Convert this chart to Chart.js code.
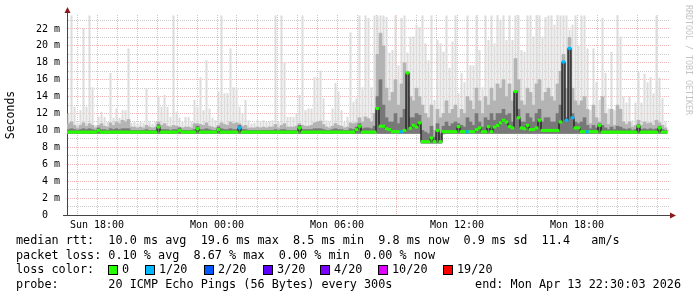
<!DOCTYPE html>
<html>
<head>
<meta charset="utf-8">
<script src="https://cdn.jsdelivr.net/npm/chart.js@4.4.1/dist/chart.umd.min.js"></script>
<style>
html,body{margin:0;padding:0;background:#fff}
canvas{display:block}
</style>
</head>
<body>
<canvas id="c" width="697" height="297"></canvas>
<script>
// samples every 9 minutes, hours counted from Sun 00:00
var sampleStart = 16.5
var sampleStep = 0.15

// highest ping of each sample (ms)
var smokeMax = [
 12.0,23.6,12.8,10.9,12.4,22.1,12.8,23.6,15.1,10.6,
 11.6,12.2,11.6,11.0,16.8,11.5,12.6,11.5,12.4,12.4,
 19.7,10.9,11.0,10.8,11.0,10.9,15.0,11.0,10.8,11.0,
 14.0,12.8,14.2,12.8,11.6,23.6,12.2,11.5,11.0,11.6,
 11.6,11.0,13.6,12.8,16.3,12.4,18.3,12.6,11.5,11.2,
 14.6,23.6,14.4,14.4,19.7,15.1,15.0,12.8,12.0,13.6,
 11.2,10.8,10.9,11.2,11.1,11.2,11.0,11.1,11.2,23.6,
 11.0,23.6,18.1,11.6,11.6,11.6,12.0,14.2,23.6,12.4,
 12.6,12.6,16.3,16.2,17.1,13.8,11.2,11.0,12.6,15.6,
 14.6,12.4,11.0,11.6,21.6,13.4,13.8,23.6,15.1,23.6,
 23.3,15.1,23.6,23.6,23.6,23.6,23.4,19.2,19.5,23.6,
 17.7,23.3,23.6,19.2,21.1,21.1,22.5,22.2,23.6,20.3,
 18.3,23.6,13.6,20.7,20.3,19.3,23.6,17.4,20.5,23.6,
 14.4,16.8,15.7,23.6,17.7,17.7,23.6,19.5,15.1,23.6,
 20.7,23.6,20.3,23.6,23.1,23.6,20.7,23.6,20.7,23.6,
 23.6,19.5,19.3,23.6,23.6,21.1,23.6,23.6,21.1,23.4,
 23.6,23.6,22.5,23.6,23.6,23.6,23.6,21.9,22.5,23.6,
 20.1,23.6,23.6,19.7,12.4,19.7,15.7,13.6,23.3,16.8,
 12.6,19.3,12.4,23.6,21.1,14.0,13.3,14.0,11.2,13.3,
 16.9,13.3,16.7,15.7,16.3,14.4,23.6,16.2,13.8,11.0
]

// upper quartile-ish smoke
var smokeMid = [
 10.8,11.0,10.6,10.3,10.6,10.9,10.5,10.8,10.6,10.3,
 10.6,10.8,10.5,10.4,10.9,10.6,11.0,10.8,11.2,11.0,
 11.3,10.4,10.4,10.3,10.4,10.3,10.6,10.4,10.3,10.4,
 11.0,10.6,10.8,10.5,10.4,10.6,10.5,10.4,10.3,10.4,
 10.4,10.3,10.8,10.8,10.7,10.6,10.9,10.5,10.4,10.3,
 10.6,10.9,10.7,10.6,11.0,10.8,10.9,10.8,10.5,10.6,
 10.3,10.3,10.3,10.4,10.3,10.4,10.3,10.4,10.4,10.7,
 10.3,10.6,10.8,10.4,10.4,10.4,10.5,10.8,10.6,10.5,
 10.5,10.6,10.9,11.0,11.1,10.7,10.4,10.3,10.5,10.8,
 10.6,10.5,10.3,10.4,10.9,10.8,10.9,11.5,11.0,11.6,
 11.4,11.0,12.0,19.0,21.5,20.0,15.0,13.5,14.5,16.0,
 13.0,15.5,18.0,17.0,14.0,13.5,15.0,14.0,13.0,12.0,
 11.5,13.0,10.0,12.5,11.5,12.0,13.5,12.0,12.5,13.0,
 11.5,12.5,12.0,14.0,13.5,12.5,15.0,13.5,12.0,14.0,
 13.0,15.0,13.5,15.5,15.0,16.0,14.0,15.5,13.5,18.5,
 16.0,13.5,13.0,15.0,14.5,13.0,15.5,16.0,13.5,14.5,
 15.0,14.0,13.5,15.5,17.0,19.0,15.0,21.0,15.0,13.5,
 13.0,13.5,14.0,12.5,10.8,13.0,11.5,11.0,14.0,12.0,
 10.7,12.5,10.6,13.0,12.5,11.0,10.7,11.0,10.4,10.6,
 11.2,10.6,11.0,10.8,10.9,10.6,11.2,10.9,10.6,10.3
]

// dense smoke close to the median
var smokeDark = [
 10.1,10.2,10.1,10.0,10.1,10.2,10.1,10.2,10.1,10.0,
 10.3,10.1,10.1,10.0,10.2,10.1,10.2,10.1,10.2,10.2,
 10.2,10.0,10.0,10.0,10.0,10.0,10.1,10.0,10.0,10.0,
 10.7,10.1,10.1,10.1,10.0,10.1,10.1,10.3,10.0,10.0,
 10.0,10.0,10.1,10.5,10.1,10.1,10.2,10.1,10.0,10.0,
 10.4,10.2,10.1,10.1,10.2,10.1,10.1,10.6,10.1,10.1,
 10.0,10.0,10.0,10.0,10.0,10.0,10.0,10.0,10.0,10.1,
 10.0,10.1,10.1,10.0,10.0,10.0,10.0,10.6,10.1,10.1,
 10.1,10.1,10.2,10.2,10.2,10.1,10.0,10.0,10.1,10.2,
 10.1,10.1,10.0,10.0,10.2,10.1,10.4,10.8,10.2,10.3,
 10.3,10.2,10.5,14.0,16.0,13.0,11.5,11.0,11.0,12.0,
 10.8,11.5,12.5,16.8,11.5,11.5,12.0,11.8,10.0,9.8,
 9.6,10.5,9.2,10.8,9.6,10.5,11.0,10.5,10.8,11.0,
 10.8,10.6,10.4,11.5,11.0,10.6,12.0,11.0,10.4,11.5,
 11.2,12.0,11.2,12.0,12.0,12.5,11.8,12.0,11.0,14.6,
 12.5,11.0,11.0,12.0,11.5,11.0,12.0,12.5,11.0,11.5,
 11.5,11.0,11.0,12.0,13.0,18.1,11.5,19.7,12.0,11.0,
 10.8,11.0,11.5,10.6,10.2,10.6,10.3,10.8,10.6,10.3,
 10.1,10.4,10.1,10.5,10.4,10.2,10.1,10.2,10.0,10.1,
 10.7,10.1,10.2,10.1,10.2,10.1,10.2,10.5,10.1,10.0
]

// lowest ping of each sample
var smokeLow = [
 9.65,9.65,9.65,9.65,9.65,9.65,9.65,9.65,9.65,9.65,
 9.65,9.65,9.65,9.65,9.65,9.65,9.65,9.65,9.65,9.65,
 9.65,9.65,9.65,9.65,9.65,9.65,9.65,9.65,9.65,9.65,
 9.65,9.65,9.65,9.65,9.65,9.65,9.65,9.65,9.65,9.65,
 9.65,9.65,9.65,9.65,9.65,9.65,9.65,9.65,9.65,9.65,
 9.65,9.65,9.65,9.65,9.65,9.65,9.65,9.65,9.65,9.65,
 9.65,9.65,9.65,9.65,9.65,9.65,9.65,9.65,9.65,9.65,
 9.65,9.65,9.65,9.65,9.65,9.65,9.65,9.65,9.65,9.65,
 9.65,9.65,9.65,9.65,9.65,9.65,9.65,9.65,9.65,9.65,
 9.65,9.65,9.65,9.65,9.65,9.65,9.65,9.65,9.65,9.65,
 9.65,9.65,9.65,9.65,9.65,9.65,9.65,9.65,9.65,9.65,
 9.65,9.65,9.65,9.65,9.65,9.65,9.65,9.65,8.5,8.5,
 8.5,8.5,8.5,8.5,8.5,9.6,9.65,9.65,9.65,9.65,
 9.65,9.65,9.65,9.65,9.65,9.65,9.65,9.65,9.65,9.65,
 9.65,9.65,9.65,9.65,9.65,9.65,9.65,9.65,9.65,9.65,
 9.65,9.65,9.65,9.65,9.65,9.65,9.65,9.65,9.65,9.65,
 9.65,9.65,9.65,9.65,9.65,9.65,9.65,9.65,9.65,9.65,
 9.65,9.65,9.65,9.65,9.65,9.65,9.65,9.65,9.65,9.65,
 9.65,9.65,9.65,9.65,9.65,9.65,9.65,9.65,9.65,9.65,
 9.65,9.65,9.65,9.65,9.65,9.65,9.65,9.65,9.65,9.65
]

// median rtt (ms)
var median = [
 9.8,9.8,9.8,9.8,9.8,9.8,9.8,9.8,9.8,9.8,
 10.0,9.8,9.8,9.8,9.8,9.8,9.8,9.8,9.8,9.8,
 9.8,9.8,9.8,9.8,9.8,9.8,9.8,9.8,9.8,9.8,
 10.4,9.8,9.8,9.8,9.8,9.8,9.8,10.0,9.8,9.8,
 9.8,9.8,9.8,10.2,9.8,9.8,9.8,9.8,9.8,9.8,
 10.1,9.8,9.8,9.8,9.8,9.8,9.8,10.3,9.8,9.8,
 9.8,9.8,9.8,9.8,9.8,9.8,9.8,9.8,9.8,9.8,
 9.8,9.8,9.8,9.8,9.8,9.8,9.8,10.3,9.8,9.8,
 9.8,9.8,9.8,9.8,9.8,9.8,9.8,9.8,9.8,9.8,
 9.8,9.8,9.8,9.8,9.8,9.8,10.1,10.5,9.8,9.8,
 9.8,9.8,9.8,12.6,10.5,10.5,10.2,10.1,9.85,9.85,
 9.85,9.85,10.0,16.8,10.25,10.6,10.4,10.9,8.67,8.67,
 8.67,9.1,8.67,10.0,8.67,9.85,9.85,9.85,9.85,9.85,
 10.45,9.85,9.85,9.85,9.85,9.85,10.1,10.3,9.85,9.85,
 10.45,9.85,10.4,10.6,10.9,11.2,11.0,10.45,10.3,14.6,
 11.5,10.3,10.2,10.6,10.1,10.1,10.3,11.2,10.0,10.0,
 10.0,10.0,10.0,10.0,11.0,18.1,11.2,19.7,11.5,10.3,
 10.3,9.85,9.85,9.85,9.85,9.85,9.85,10.6,9.8,9.8,
 9.8,9.8,9.8,9.8,9.8,9.8,9.8,9.8,9.8,9.8,
 10.5,9.8,9.8,9.8,9.8,9.8,9.8,10.3,9.8,9.8
]

// lost pings out of 20 (index into lossColors)
var loss = [
 0,0,0,0,0,0,0,0,0,0, 0,0,0,0,0,0,0,0,0,0,
 0,0,0,0,0,0,0,0,0,0, 0,0,0,0,0,0,0,0,0,0,
 0,0,0,0,0,0,0,0,0,0, 0,0,0,0,0,0,0,1,0,0,
 0,0,0,0,0,0,0,0,0,0, 0,0,0,0,0,0,0,0,0,0,
 0,0,0,0,0,0,0,0,0,0, 0,0,0,0,0,0,0,0,0,0,
 0,0,0,0,0,0,0,0,0,0, 0,1,0,0,0,0,0,0,0,0,
 0,0,0,0,0,0,0,0,0,0, 0,0,0,1,0,0,0,0,0,0,
 0,0,0,0,0,0,0,0,0,0, 0,0,0,0,0,0,0,0,0,0,
 0,0,0,0,0,1,1,1,1,0, 0,0,0,1,0,0,0,0,0,0,
 0,0,0,0,0,0,0,0,0,0, 0,0,0,0,0,0,0,0,0,0
]

var lossLabels = ['0','1/20','2/20','3/20','4/20','10/20','19/20']
var lossColors = ['#26ff00','#00b8ff','#0059ff','#5e00ff','#7e00ff','#dd00ff','#ff0000']

var timeTicks = [18,24,30,36,42]
var timeLabels = ['Sun 18:00','Mon 00:00','Mon 06:00','Mon 12:00','Mon 18:00']

var statLines = [
  'median rtt:  10.0 ms avg  19.6 ms max  8.5 ms min  9.8 ms now  0.9 ms sd  11.4   am/s',
  'packet loss: 0.10 % avg  8.67 % max  0.00 % min  0.00 % now'
]
var probeText = 'probe:       20 ICMP Echo Pings (56 Bytes) every 300s'
var endText = 'end: Mon Apr 13 22:30:03 2026'
var creditText = 'RRDTOOL / TOBI OETIKER'

var MONO = '"DejaVu Sans Mono", "Liberation Mono", monospace'

function sampleX(i){ return sampleStart + sampleStep*(i+0.5) }

function floating(lo,hi){
  var out=[]
  for(var i=0;i<hi.length;i++) out.push({x:sampleX(i), y:[lo[i],hi[i]]})
  return out
}

var medianBand=[], medianPts=[]
for(var i=0;i<median.length;i++){
  medianBand.push({x:sampleX(i), y:[median[i]-0.14, median[i]+0.14]})
  medianPts.push({x:sampleX(i), y:median[i]})
}

var decor = {
  id:'decor',
  afterDraw:function(chart){
    var ctx=chart.ctx, a=chart.chartArea
    ctx.save()
    // axis extensions + arrows
    ctx.strokeStyle='#444'; ctx.lineWidth=1
    ctx.beginPath()
    ctx.moveTo(a.left+0.5,a.top); ctx.lineTo(a.left+0.5,11)
    ctx.moveTo(a.left-4,a.bottom+0.5); ctx.lineTo(a.right+2,a.bottom+0.5)
    ctx.stroke()
    ctx.fillStyle='#8b1a1a'
    ctx.beginPath()
    ctx.moveTo(a.left+0.5,7); ctx.lineTo(a.left-2.5,13); ctx.lineTo(a.left+3.5,13); ctx.closePath()
    ctx.fill()
    ctx.beginPath()
    ctx.moveTo(a.right+7,a.bottom+0.5); ctx.lineTo(a.right+1,a.bottom-2.5); ctx.lineTo(a.right+1,a.bottom+3.5); ctx.closePath()
    ctx.fill()

    // credit
    ctx.save()
    ctx.translate(688,5); ctx.rotate(Math.PI/2)
    ctx.fillStyle='#c4c4c4'; ctx.font='8.3px '+MONO
    ctx.textBaseline='middle'; ctx.textAlign='left'
    ctx.fillText(creditText,0,0)
    ctx.restore()

    // statistics block
    ctx.fillStyle='#000'; ctx.font='11.8px '+MONO
    ctx.textBaseline='middle'; ctx.textAlign='left'
    ctx.fillText(statLines[0],16,241)
    ctx.fillText(statLines[1],16,255.5)
    ctx.fillText('loss color:',16,270)
    var boxX=[108,145,204,263,320,378,443]
    for(var k=0;k<lossLabels.length;k++){
      ctx.fillStyle=lossColors[k]
      ctx.fillRect(boxX[k],265.5,9,9)
      ctx.strokeStyle='#000'
      ctx.strokeRect(boxX[k]+0.5,265.5,9,9)
      ctx.fillStyle='#000'
      ctx.fillText(lossLabels[k],boxX[k]+14,270)
    }
    ctx.fillText(probeText,16,284.5)
    ctx.textAlign='right'
    ctx.fillText(endText,681,284.5)
    ctx.restore()
  }
}

var MAJOR='rgba(225,110,110,0.5)', MINOR='rgba(150,150,150,0.5)'

new Chart(document.getElementById('c'), {
  type:'bar',
  data:{
    datasets:[
      {label:'max', data:floating(smokeLow,smokeMax), backgroundColor:'#dcdcdc', barPercentage:0.67, order:5},
      {label:'mid', data:floating(smokeLow,smokeMid), backgroundColor:'#b4b4b4', order:4},
      {label:'dark', data:floating(smokeLow,smokeDark), backgroundColor:'#787878', order:3},
      {type:'line', label:'step', data:medianPts, borderColor:'#000', borderWidth:1,
        stepped:'middle', pointRadius:0, fill:false, order:2},
      {label:'median', data:medianBand, backgroundColor:loss.map(function(l){return lossColors[l]}), order:1}
    ]
  },
  options:{
    responsive:false,
    animation:false,
    devicePixelRatio:1,
    layout:{padding:{left:0,right:28,top:15,bottom:62}},
    plugins:{legend:{display:false}, tooltip:{enabled:false}},
    datasets:{bar:{grouped:false, barPercentage:1, categoryPercentage:1, borderWidth:0}},
    scales:{
      x:{
        type:'linear', min:16.5, max:46.6, offset:false, z:1,
        afterFit:function(s){ s.height=20 },
        grid:{color:function(c){ return c.tick && c.tick.value%3===0 ? MAJOR : MINOR }, drawTicks:false, offset:false},
        border:{color:'#444', dash:[1,1]},
        ticks:{stepSize:1, includeBounds:false, autoSkip:false, maxRotation:0, minRotation:0,
          padding:4, color:'#000', font:{family:MONO, size:10},
          callback:function(v){ var k=timeTicks.indexOf(v); return k>=0 ? timeLabels[k] : '' }}
      },
      y:{
        min:0, max:23.65, z:1,
        afterFit:function(s){ s.width=67 },
        grid:{color:function(c){ return c.tick && c.tick.value%2===0 ? MAJOR : MINOR }, drawTicks:false},
        border:{color:'#444', dash:[1,1]},
        title:{display:true, text:'Seconds', color:'#000', font:{family:MONO, size:11.5}, padding:{top:4,bottom:0}},
        ticks:{stepSize:1, includeBounds:false, autoSkip:false, padding:7, color:'#000',
          font:{family:MONO, size:10},
          callback:function(v){ if(v%2) return ''; return v===0 ? '0  ' : v+' m' }}
      }
    }
  },
  plugins:[decor]
})
</script>
</body>
</html>
